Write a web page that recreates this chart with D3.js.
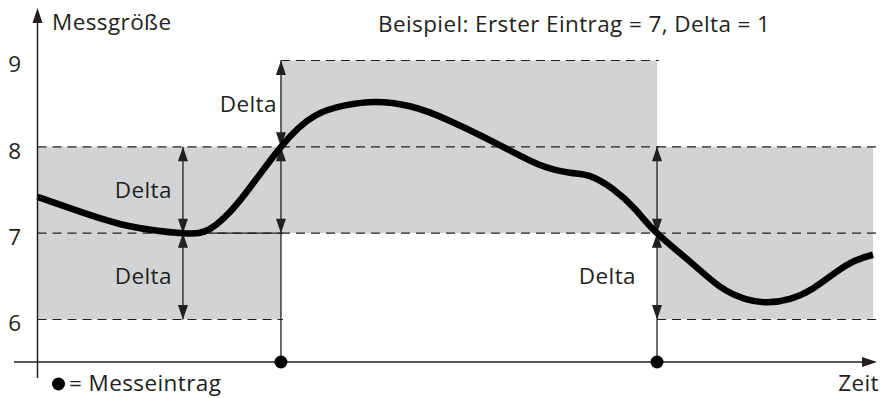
<!DOCTYPE html>
<html>
<head>
<meta charset="utf-8">
<script src="https://cdn.jsdelivr.net/npm/d3@7"></script>
<style>
  html, body { margin: 0; padding: 0; background: #fff; }
  svg text { font-family: "Open Sans", sans-serif; fill: #231f20; letter-spacing: 0.4px; }
</style>
</head>
<body>
<svg id="chart" width="885" height="398"></svg>
<script>
// Measured quantity over time (time in arbitrary units 0..100)
const curveTime  = [0, 5.09, 11.07, 17.41, 20.65, 24.24, 29.14, 33.21, 36.80, 40.39, 44.58, 49.37, 55.72,
                    60.14, 63.73, 66.13, 68.88, 71.51, 74.15, 78.10, 81.69, 84.68, 87.31, 90.07,
                    92.82, 95.45, 97.85, 100];
const curveValue = [7.42, 7.25, 7.08, 7.00, 7.05, 7.38, 8.00, 8.36, 8.48, 8.52, 8.47, 8.30, 8.00,
                    7.79, 7.70, 7.66, 7.51, 7.28, 7.00, 6.67, 6.38, 6.24, 6.20, 6.24,
                    6.36, 6.54, 6.68, 6.75];

// Points in time at which a new entry is stored
const entryTimes = [29.14, 74.15];

// Tolerance bands: start, end and stored value (band = value ± delta)
const bandStart = [0, 29.14, 74.15];
const bandEnd   = [29.14, 74.15, 100];
const bandValue = [7, 8, 7];
const delta = 1;

// Delta arrows drawn for each band, and which of them carry a label
const arrowTime      = [17.41, 29.14, 74.15];
const arrowLabelUp   = [true, true, false];
const arrowLabelDown = [true, false, true];

// Axis ticks
const yTicks = [6, 7, 8, 9];
const yTickLabels = ["6", "7", "8", "9"];

// Texts
const yAxisTitle = "Messgröße";
const xAxisTitle = "Zeit";
const chartTitle = "Beispiel: Erster Eintrag = 7, Delta = 1";
const deltaLabel = "Delta";
const legendLabel = "= Messeintrag";

// ---- layout and styling ----
const W = 885, H = 398;
const plotLeft = 37.5, plotRight = 873, axisY = 362;
const ink = "#231f20", bandFill = "#d1d3d4";
const fontSize = 22.5;
const labelGap = [11, 4, 21];

const svg = d3.select("#chart");

const x = d3.scaleLinear().domain([0, 100]).range([plotLeft, plotRight]);
const y = d3.scaleLinear().domain([6, 9]).range([319.5, 60.5]);

// filled triangular arrowhead with its tip at (tx, ty); dir = -1 points up, +1 points down
function arrowHead(g, tx, ty, dir, w = 10, len = 14.5) {
  g.append("path")
    .attr("d", `M${tx},${ty} L${tx - w / 2},${ty - dir * len} L${tx + w / 2},${ty - dir * len} Z`)
    .attr("fill", ink);
}

// ---- bands ----
const bands = bandValue.map((v, i) => ({ v, s: bandStart[i], e: bandEnd[i], last: i === bandValue.length - 1 }));

svg.append("g").selectAll("rect").data(bands).join("rect")
  .attr("x", d => x(d.s))
  .attr("width", d => x(d.e) - x(d.s))
  .attr("y", d => y(d.v + delta))
  .attr("height", d => y(d.v - delta) - y(d.v + delta))
  .attr("fill", bandFill);

// dashed level lines for each band (lower edge, stored value, upper edge)
const dashG = svg.append("g");
bands.forEach(b => {
  [b.v - delta, b.v, b.v + delta].forEach(level => {
    dashG.append("line")
      .attr("x1", x(b.s)).attr("x2", x(b.e) + (b.last ? 4 : 2))
      .attr("y1", y(level)).attr("y2", y(level))
      .attr("stroke", ink).attr("stroke-width", 1.2)
      .attr("stroke-dasharray", "9,6");
  });
});

// solid segment at the first stored value up to the first entry
svg.append("line")
  .attr("x1", x(20.65)).attr("x2", x(entryTimes[0]))
  .attr("y1", y(bandValue[0])).attr("y2", y(bandValue[0]))
  .attr("stroke", ink).attr("stroke-width", 1.2);

// ---- entry lines and delta arrows ----
const arrowG = svg.append("g");
entryTimes.forEach((t, i) => {
  const v = bandValue[i + 1];
  arrowG.append("line")
    .attr("x1", x(t)).attr("x2", x(t))
    .attr("y1", axisY).attr("y2", y(v - delta))
    .attr("stroke", ink).attr("stroke-width", 1.3);
});

arrowTime.forEach((t, i) => {
  const v = bandValue[i];
  const ax = x(t);
  arrowG.append("line")
    .attr("x1", ax).attr("x2", ax)
    .attr("y1", y(v + delta)).attr("y2", y(v - delta))
    .attr("stroke", ink).attr("stroke-width", 1.3);
  // upper arrow: v -> v + delta
  arrowHead(arrowG, ax, y(v + delta), -1);
  arrowHead(arrowG, ax, y(v), 1);
  // lower arrow: v -> v - delta
  arrowHead(arrowG, ax, y(v), -1);
  arrowHead(arrowG, ax, y(v - delta), 1);

  if (arrowLabelUp[i]) {
    arrowG.append("text")
      .attr("x", ax - labelGap[i]).attr("y", y(v + delta / 2))
      .attr("text-anchor", "end").attr("dy", "0.35em")
      .attr("font-size", fontSize).text(deltaLabel);
  }
  if (arrowLabelDown[i]) {
    arrowG.append("text")
      .attr("x", ax - labelGap[i]).attr("y", y(v - delta / 2))
      .attr("text-anchor", "end").attr("dy", "0.35em")
      .attr("font-size", fontSize).text(deltaLabel);
  }
});

// ---- measured curve ----
const line = d3.line()
  .x(d => x(d[0]))
  .y(d => y(d[1]))
  .curve(d3.curveNatural);

svg.append("path")
  .datum(curveTime.map((t, i) => [t, curveValue[i]]))
  .attr("d", line)
  .attr("fill", "none")
  .attr("stroke", "#000")
  .attr("stroke-width", 6.5)
  .attr("stroke-linejoin", "round");

// ---- axes ----
const axisG = svg.append("g");
// y axis with arrow
axisG.append("line")
  .attr("x1", plotLeft).attr("x2", plotLeft)
  .attr("y1", 378).attr("y2", 20)
  .attr("stroke", ink).attr("stroke-width", 1.5);
arrowHead(axisG, plotLeft, 8, -1, 10, 15);
// x axis with arrow
axisG.append("line")
  .attr("x1", 14).attr("x2", 866)
  .attr("y1", axisY).attr("y2", axisY)
  .attr("stroke", ink).attr("stroke-width", 1.5);
axisG.append("path")
  .attr("d", `M877,${axisY} L862,${axisY - 5} L862,${axisY + 5} Z`)
  .attr("fill", ink);

// tick labels
const yAxis = d3.axisLeft(y)
  .tickValues(yTicks)
  .tickFormat((d, i) => yTickLabels[i])
  .tickSize(0)
  .tickPadding(16);
const yAxisG = svg.append("g").attr("transform", `translate(${plotLeft},0)`).call(yAxis);
yAxisG.select(".domain").remove();
yAxisG.selectAll("text")
  .attr("font-size", fontSize)
  .attr("font-family", "Open Sans, sans-serif")
  .attr("fill", ink)
  .attr("dy", "0.5em");

// entry dots on the time axis
svg.append("g").selectAll("circle").data(entryTimes).join("circle")
  .attr("cx", d => x(d)).attr("cy", axisY)
  .attr("r", 6.5).attr("fill", "#000");

// ---- titles and legend ----
svg.append("text").attr("x", 52).attr("y", 30)
  .attr("font-size", fontSize).text(yAxisTitle);
svg.append("text").attr("x", 378).attr("y", 32)
  .attr("font-size", fontSize).text(chartTitle);
svg.append("text").attr("x", 879).attr("y", 391)
  .attr("text-anchor", "end").attr("font-size", fontSize).text(xAxisTitle);

svg.append("circle").attr("cx", 58.5).attr("cy", 384).attr("r", 6.5).attr("fill", "#000");
svg.append("text").attr("x", 69).attr("y", 391)
  .attr("font-size", fontSize).text(legendLabel);
</script>
</body>
</html>
